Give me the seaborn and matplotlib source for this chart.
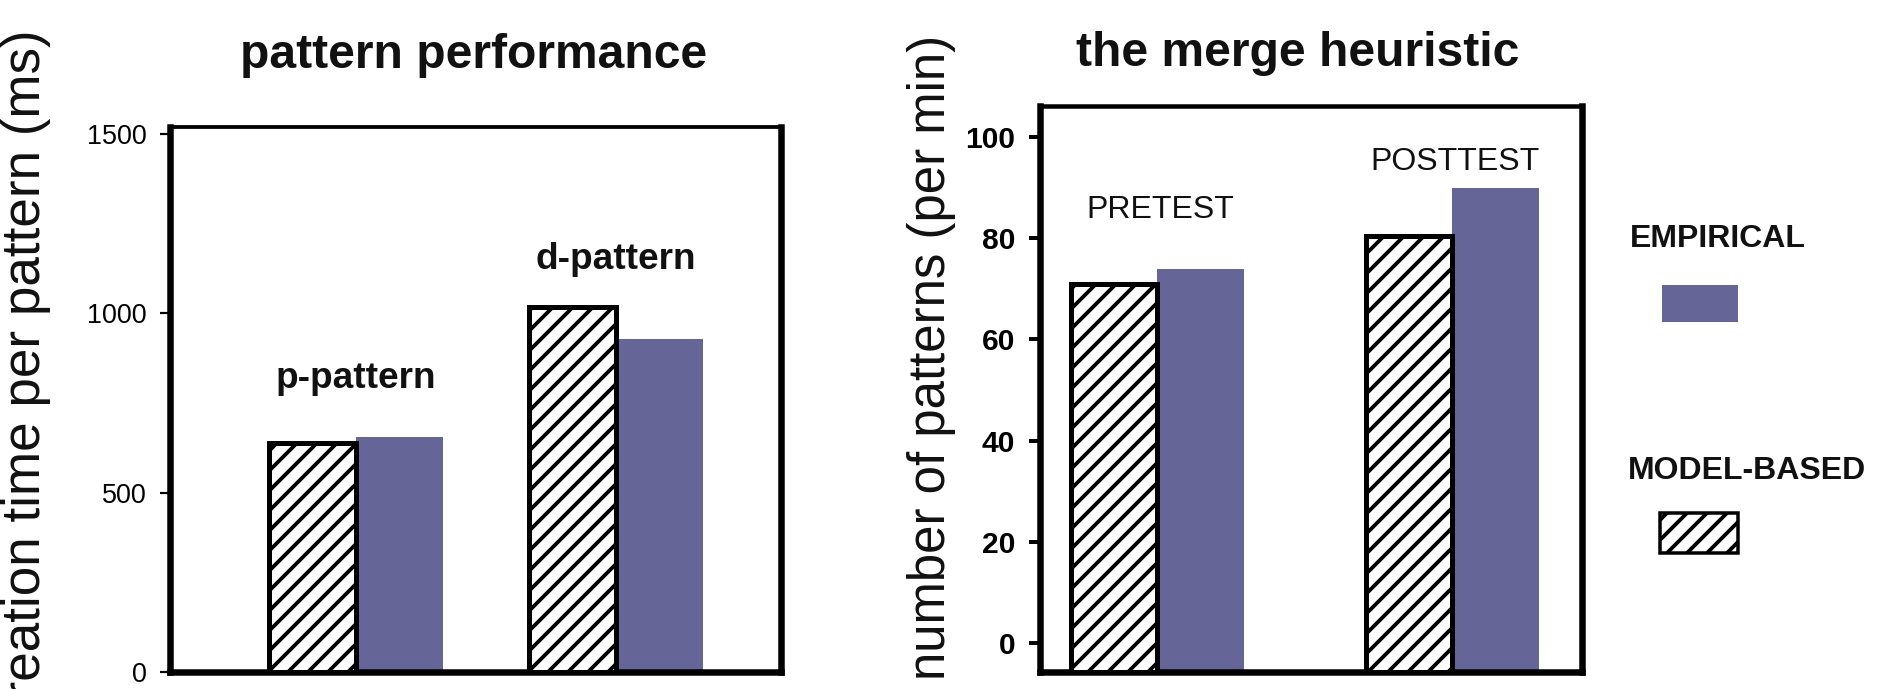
import matplotlib
matplotlib.use("Agg")
import matplotlib.pyplot as plt
from matplotlib.patches import Rectangle
import seaborn as sns
import pandas as pd

# ---- data ----
sources = ["MODEL-BASED", "EMPIRICAL"]

perf_groups = ["p-pattern", "d-pattern"]
perf_model = [638, 1018]
perf_empirical = [656, 928]
perf_ticks = [0, 500, 1000, 1500]

merge_groups = ["PRETEST", "POSTTEST"]
merge_model = [71, 80.5]
merge_empirical = [74, 90]
merge_ticks = [0, 20, 40, 60, 80, 100]

BLUE = "#656598"
palette = {"MODEL-BASED": "white", "EMPIRICAL": BLUE}

DPI = 120
W, H = 1885, 689


def pt(px):
    """Convert a size in output pixels to points."""
    return px * 72.0 / DPI


sns.set_theme(style="white")
plt.rcParams["font.family"] = ["Liberation Sans", "DejaVu Sans"]
plt.rcParams["hatch.linewidth"] = pt(3.8)
plt.rcParams["hatch.color"] = "black"

INK = "#111111"

fig = plt.figure(figsize=(W / DPI, H / DPI), dpi=DPI)
fig.patch.set_facecolor("white")


def frame(x0, x1, y_top, y_bot):
    return [x0 / W, 1 - y_bot / H, (x1 - x0) / W, (y_bot - y_top) / H]


def long_table(groups, model, empirical):
    rows = []
    for g, m, e in zip(groups, model, empirical):
        rows.append({"group": g, "source": "MODEL-BASED", "value": m})
        rows.append({"group": g, "source": "EMPIRICAL", "value": e})
    return pd.DataFrame(rows)


def style_bars(ax):
    for bar in ax.containers[0]:
        bar.set_facecolor("white")
        bar.set_edgecolor("black")
        bar.set_hatch("//")
        bar.set_linewidth(pt(5))
        bar.set_zorder(3)
    for bar in ax.containers[1]:
        bar.set_linewidth(0)
        bar.set_zorder(2)


def style_frame(ax, top_px):
    for side in ["left", "right", "bottom"]:
        ax.spines[side].set_visible(True)
        ax.spines[side].set_color("black")
        ax.spines[side].set_linewidth(pt(6.5))
    ax.spines["top"].set_visible(True)
    ax.spines["top"].set_color("black")
    ax.spines["top"].set_linewidth(pt(top_px))
    ax.set_xticks([])
    ax.set_xlabel("")
    ax.set_facecolor("white")


# ---- left panel: pattern performance ----
ax1 = fig.add_axes(frame(170, 781, 127, 672))
df1 = long_table(perf_groups, perf_model, perf_empirical)
sns.barplot(data=df1, x="group", y="value", hue="source", order=perf_groups,
            hue_order=sources, palette=palette, width=0.67, saturation=1,
            errorbar=None, legend=False, ax=ax1)
style_bars(ax1)
style_frame(ax1, 3.8)
ax1.set_xlim(-0.715, 1.635)
ax1.set_ylim(0, 1520)
ax1.set_yticks(perf_ticks)
ax1.set_yticklabels([str(t) for t in perf_ticks], fontsize=pt(27))
ax1.tick_params(axis="y", direction="out", length=pt(10), width=pt(2.2),
                pad=pt(13), colors="black", left=True)
ax1.set_ylabel("creation time per pattern (ms)", fontsize=pt(53), color=INK)
ax1.yaxis.label.set_verticalalignment("center")
ax1.yaxis.set_label_coords(-0.2357, 0.541)
for i, (g, y) in enumerate(zip(perf_groups, [792, 1124])):
    ax1.text(i, y, g, ha="center", va="baseline", fontsize=pt(37),
             fontweight="bold", color=INK)
fig.text(474 / W, 1 - 68 / H, "pattern performance", ha="center",
         va="baseline", fontsize=pt(48), fontweight="bold", color=INK)

# ---- right panel: the merge heuristic ----
ax2 = fig.add_axes(frame(1040, 1582, 106, 672))
df2 = long_table(merge_groups, merge_model, merge_empirical)
sns.barplot(data=df2, x="group", y="value", hue="source", order=merge_groups,
            hue_order=sources, palette=palette, width=0.586, saturation=1,
            errorbar=None, legend=False, ax=ax2)
# bars rise from the lower frame edge rather than from zero
y_floor = -5.7
for bar in ax2.patches:
    top = bar.get_y() + bar.get_height()
    bar.set_y(y_floor)
    bar.set_height(top - y_floor)
style_bars(ax2)
style_frame(ax2, 4.5)
ax2.set_xlim(-0.398, 1.439)
ax2.set_ylim(y_floor, 106.1)
ax2.set_yticks(merge_ticks)
ax2.set_yticklabels([str(t) for t in merge_ticks], fontsize=pt(30),
                    fontweight="bold")
ax2.tick_params(axis="y", direction="out", length=pt(11), width=pt(4),
                pad=pt(14), colors="black", left=True)
ax2.set_ylabel("number of patterns (per min)", fontsize=pt(51), color=INK)
ax2.yaxis.label.set_verticalalignment("center")
ax2.yaxis.set_label_coords(-0.201, 0.5565)
for i, (g, y) in enumerate(zip(merge_groups, [83.9, 93.4])):
    ax2.text(i + 0.01, y, g, ha="center", va="baseline", fontsize=pt(32),
             color=INK)
fig.text(1298 / W, 1 - 66 / H, "the merge heuristic", ha="center",
         va="baseline", fontsize=pt(48), fontweight="bold", color=INK)

# ---- key ----
fig.text(1630 / W, 1 - 239 / H, "EMPIRICAL", ha="left", va="center",
         fontsize=pt(32), fontweight="bold", color=INK)
fig.patches.append(Rectangle((1662 / W, 1 - 322 / H), 76 / W, 37 / H,
                             transform=fig.transFigure,
                             facecolor=palette["EMPIRICAL"],
                             edgecolor="none", figure=fig))
fig.text(1628 / W, 1 - 471 / H, "MODEL-BASED", ha="left", va="center",
         fontsize=pt(32), fontweight="bold", color=INK)
fig.patches.append(Rectangle((1660 / W, 1 - 553 / H), 78 / W, 40 / H,
                             transform=fig.transFigure,
                             facecolor=palette["MODEL-BASED"],
                             edgecolor="black", hatch="//", linewidth=pt(3.5),
                             figure=fig))

fig.savefig("out.png", dpi=DPI, facecolor="white")
